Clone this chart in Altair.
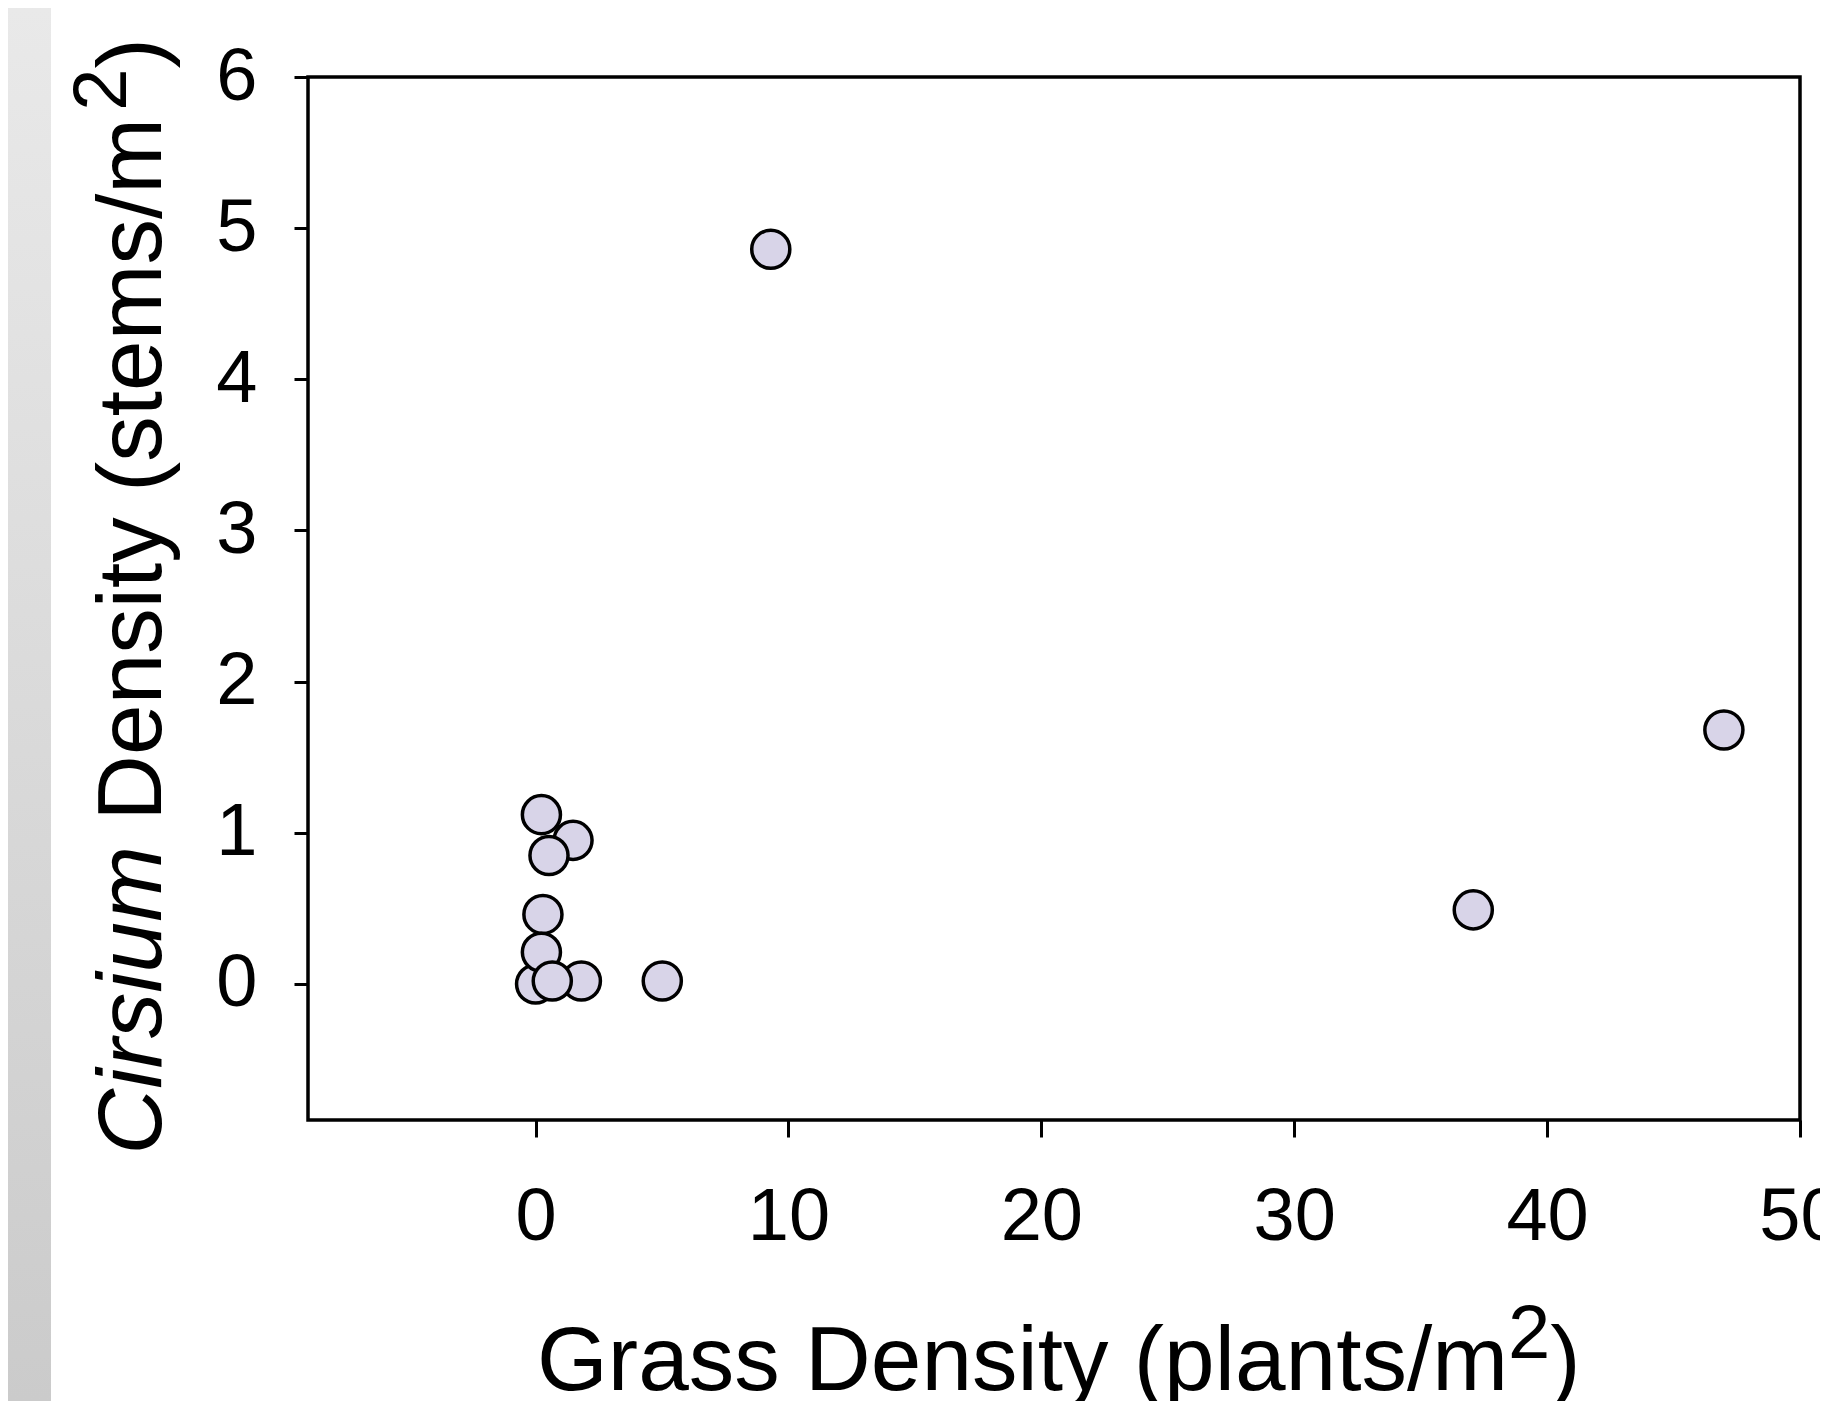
import altair as alt
import pandas as pd

# ---- data ----
grass = [9.30, 46.99, 37.08, 0.23, 1.48, 0.53, 0.29, 0.0, 1.81, 0.23, 0.66, 5.01]
cirsium = [4.86, 1.68, 0.49, 1.12, 0.95, 0.85, 0.46, 0.0, 0.02, 0.21, 0.02, 0.02]
x_ticks = [0, 10, 20, 30, 40, 50]
y_ticks = [0, 1, 2, 3, 4, 5, 6]
x_title_parts = ["Grass Density (plants/m", "2", ")"]
y_title_parts = ["Cirsium", "Density (stems/m", "2", ")"]

FONT = "Liberation Sans"
W, H = 1492, 1043
PAD_L, PAD_T, PAD_R, PAD_B = 300, 69, 20, 281
TITLE_SIZE = 91
SUP_SIZE = 76

df = pd.DataFrame({"grass": grass, "cirsium": cirsium})
one = pd.DataFrame({"k": [0]})

x_scale = alt.Scale(domain=[-9, 50], nice=False, zero=False)
y_scale = alt.Scale(domain=[-0.9, 6], nice=False, zero=False)

points = alt.Chart(df).mark_circle(
    size=1450, fill="#d8d4e8", stroke="black", strokeWidth=3.5,
    opacity=1, fillOpacity=1, strokeOpacity=1
).encode(
    x=alt.X("grass:Q", scale=x_scale, axis=alt.Axis(
        values=x_ticks, format="d", title=None, domain=False, grid=False,
        tickSize=17, tickWidth=3, tickColor="black",
        labelFont=FONT, labelFontSize=74, labelColor="black",
        labelPadding=44, labelFlush=False, labelOverlap=False)),
    y=alt.Y("cirsium:Q", scale=y_scale, axis=alt.Axis(
        values=y_ticks, format="d", title=None, domain=False, grid=False,
        tickSize=14, tickWidth=3, tickColor="black",
        labelFont=FONT, labelFontSize=74, labelColor="black",
        labelPadding=37, labelFlush=False, labelOverlap=False)),
)

strip = alt.Chart(one).mark_rect(
    fill=alt.LinearGradient(
        gradient="linear",
        stops=[alt.GradientStop(color="#e9e9e9", offset=0),
               alt.GradientStop(color="#cbcbcb", offset=1)],
        x1=0, x2=0, y1=0, y2=1)
).encode(
    x=alt.value(-PAD_L), x2=alt.value(51 - 8 - PAD_L),
    y=alt.value(-PAD_T), y2=alt.value(H + PAD_B)
)

def txt(text, x, y, size, align="left", angle=0, style="normal"):
    return alt.Chart(one).mark_text(
        text=text, font=FONT, fontSize=size, align=align,
        baseline="alphabetic", angle=angle, fontStyle=style, color="black"
    ).encode(x=alt.value(x), y=alt.value(y))

# x title
xb = 1313
xs = 1200
x_title = [
    txt(x_title_parts[0], xs, xb, TITLE_SIZE, align="right"),
    txt(x_title_parts[1], xs, xb - 32, SUP_SIZE),
    txt(x_title_parts[2], xs + 0.556 * SUP_SIZE, xb, TITLE_SIZE),
]

# y title (rotated)
yb = -147
ys = 769
y2 = ys - 0.278 * TITLE_SIZE
w_main = 7.801 * TITLE_SIZE
y_title = [
    txt(y_title_parts[0], yb, ys, TITLE_SIZE, align="right", angle=270, style="italic"),
    txt(y_title_parts[1], yb, y2, TITLE_SIZE, align="left", angle=270),
    txt(y_title_parts[2], yb - 35, y2 - w_main, SUP_SIZE, align="left", angle=270),
    txt(y_title_parts[3], yb, y2 - w_main - 0.556 * SUP_SIZE, TITLE_SIZE, align="left", angle=270),
]

chart = alt.layer(strip, points, *x_title, *y_title).properties(
    width=W, height=H,
    autosize=alt.AutoSizeParams(type="none"),
    padding={"left": PAD_L, "top": PAD_T, "right": PAD_R, "bottom": PAD_B},
    background="white",
).configure_view(stroke="black", strokeWidth=3.5)

chart.save("out.html", embed_options={"renderer": "svg", "actions": False})
